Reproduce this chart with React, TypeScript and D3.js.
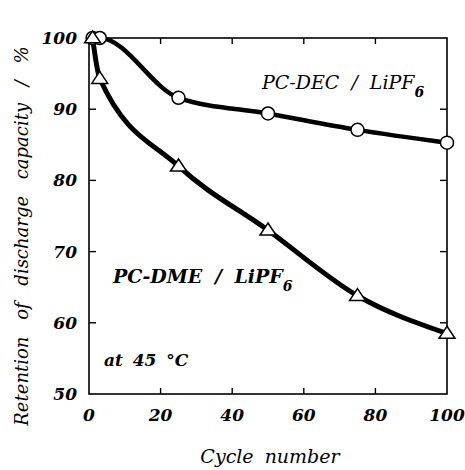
import React from "react";
import * as d3 from "d3";

const decCycles = [1, 3, 25, 50, 75, 100];
const decValues = [100, 100, 91.6, 89.4, 87.1, 85.3];
const dmeCycles = [1, 3, 25, 50, 75, 100];
const dmeValues = [100, 94.3, 82.0, 73.0, 63.8, 58.5];
const xTicks = [0, 20, 40, 60, 80, 100];
const yTicks = [50, 60, 70, 80, 90, 100];

export default function App() {
  const W = 465, H = 470;
  const x = d3.scaleLinear().domain([0, 100]).range([89, 447]);
  const y = d3.scaleLinear().domain([50, 100]).range([394, 38]);
  const font = "'DejaVu Serif', serif";
  const line = d3.line<[number, number]>()
    .x(d => x(d[0])).y(d => y(d[1]))
    .curve(d3.curveMonotoneX);
  const dec: [number, number][] = decCycles.map((c, i) => [c, decValues[i]]);
  const dme: [number, number][] = dmeCycles.map((c, i) => [c, dmeValues[i]]);
  const tri = (cx: number, cy: number) => {
    const s = 8;
    return `M${cx},${cy - s * 0.9}L${cx + s},${cy + s * 0.6}L${cx - s},${cy + s * 0.6}Z`;
  };
  return (
    <svg width={W} height={H} style={{ position: "absolute", left: 0, top: 0, background: "#fff" }}>
      <rect x={x(0)} y={y(100)} width={x(100) - x(0)} height={y(50) - y(100)} fill="none" stroke="#000" strokeWidth={1.6} />
      {xTicks.slice(1, -1).map(t => (
        <g key={"xt" + t}>
          <line x1={x(t)} x2={x(t)} y1={y(50)} y2={y(50) - 6} stroke="#000" strokeWidth={1.4} />
          <line x1={x(t)} x2={x(t)} y1={y(100)} y2={y(100) + 6} stroke="#000" strokeWidth={1.4} />
        </g>
      ))}
      {yTicks.slice(1, -1).map(t => (
        <g key={"yt" + t}>
          <line x1={x(0)} x2={x(0) + 7} y1={y(t)} y2={y(t)} stroke="#000" strokeWidth={1.4} />
          <line x1={x(100)} x2={x(100) - 7} y1={y(t)} y2={y(t)} stroke="#000" strokeWidth={1.4} />
        </g>
      ))}
      {xTicks.map(t => (
        <text key={"xl" + t} x={x(t)} y={421} textAnchor="middle" fontFamily={font} fontStyle="italic" fontWeight="bold" fontSize={17}>{t}</text>
      ))}
      {yTicks.map(t => (
        <text key={"yl" + t} x={77} y={y(t) + 6} textAnchor="end" fontFamily={font} fontStyle="italic" fontWeight="bold" fontSize={17}>{t}</text>
      ))}
      <text x={270} y={463} textAnchor="middle" fontFamily={font} fontStyle="italic" fontSize={19} wordSpacing={5}>Cycle number</text>
      <text transform="translate(28,236) rotate(-90)" textAnchor="middle" fontFamily={font} fontStyle="italic" fontSize={18} wordSpacing={11}>Retention of discharge capacity / %</text>
      <path d={line(dec) || ""} fill="none" stroke="#000" strokeWidth={4.5} />
      <path d={line(dme) || ""} fill="none" stroke="#000" strokeWidth={5} />
      {dec.map((d, i) => (
        <circle key={"c" + i} cx={x(d[0])} cy={y(d[1])} r={6.5} fill="#fff" stroke="#000" strokeWidth={1.5} />
      ))}
      {dme.map((d, i) => (
        <path key={"t" + i} d={tri(x(d[0]), y(d[1]))} fill="#fff" stroke="#000" strokeWidth={1.5} />
      ))}
      <text x={262} y={89} fontFamily={font} fontStyle="italic" fontSize={19} wordSpacing={6}>PC-DEC / LiPF<tspan dy={8} fontSize={14} fontWeight="bold">6</tspan></text>
      <text x={113} y={283} fontFamily={font} fontStyle="italic" fontWeight="bold" fontSize={19} wordSpacing={6}>PC-DME / LiPF<tspan dy={8} fontSize={14}>6</tspan></text>
      <text x={104} y={366} fontFamily={font} fontStyle="italic" fontWeight="bold" fontSize={17} wordSpacing={4}>at 45 °C</text>
    </svg>
  );
}
